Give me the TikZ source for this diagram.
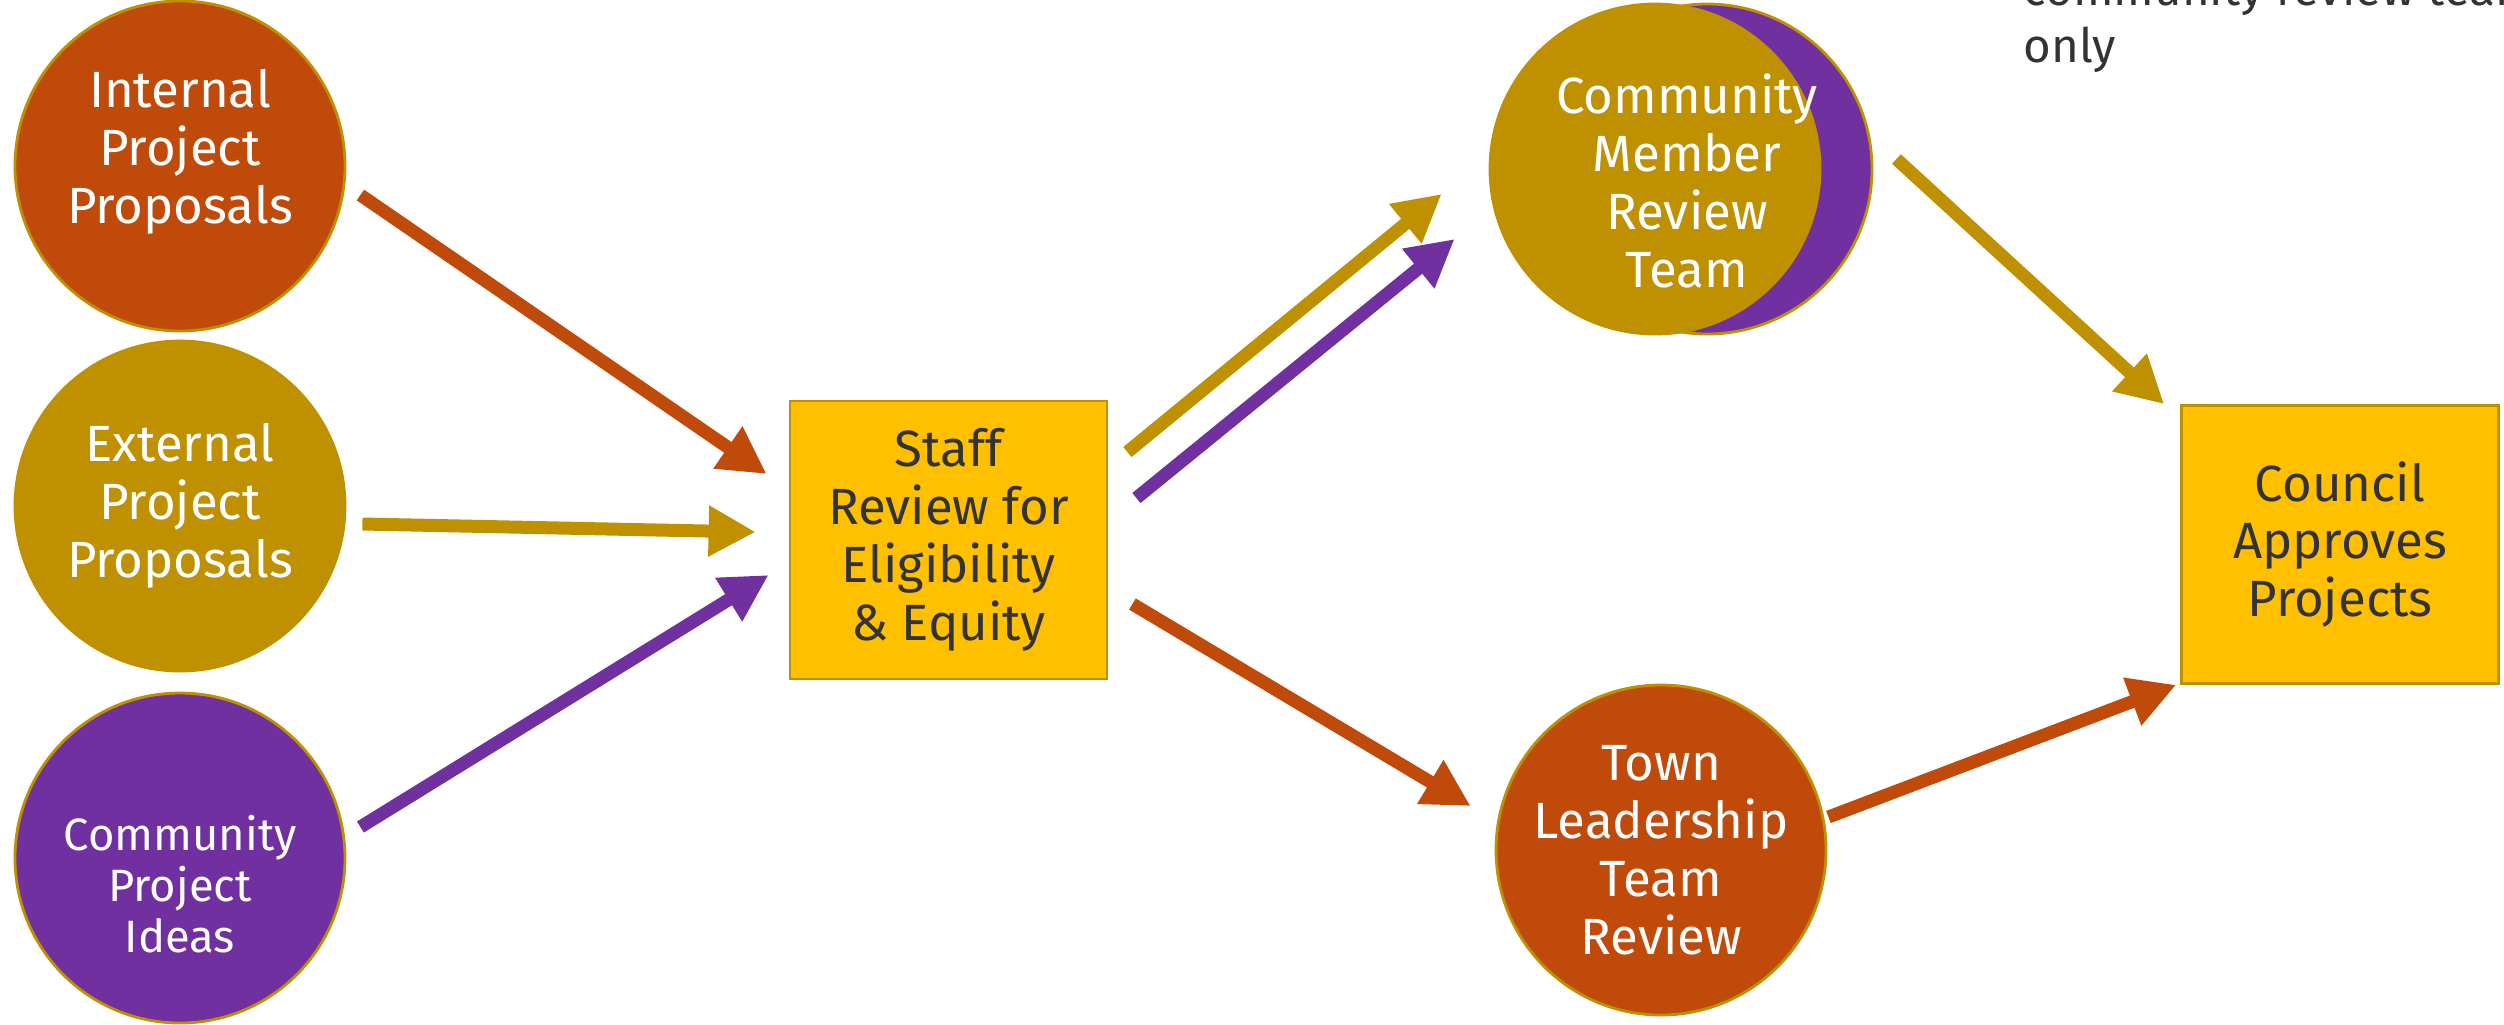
\documentclass[tikz,border=0pt]{standalone}
\usepackage{fontspec}
\setmainfont{Fira Sans}
\usetikzlibrary{arrows.meta}

\definecolor{rust}{RGB}{192,74,10}
\definecolor{ochre}{RGB}{191,144,0}
\definecolor{plum}{RGB}{112,48,160}
\definecolor{amber}{RGB}{255,192,0}
\definecolor{ink}{RGB}{51,51,51}

\tikzset{
	bubble/.style={circle, draw=ochre, line width=0.8pt, minimum size=3.3cm, inner sep=0pt},
	bubbletext/.style={text=white, align=center, font=\fontsize{14.5}{16.5}\selectfont},
	stage/.style={rectangle, draw=ochre, line width=0.8pt, fill=amber, minimum width=3.17cm, minimum height=2.78cm, text=ink, align=center, font=\fontsize{14.5}{16.5}\selectfont},
	flow/.style={line width=3.7pt, -{Triangle[length=4.7mm, width=4.8mm]}}
}

\begin{document}
\begin{tikzpicture}
	\useasboundingbox (0,0) rectangle (25.04,-10.24);
	% sources
	\node [bubble, fill=rust] (int) at (1.80,-1.66) {};
	\node [bubbletext] (intlbl) at (1.80,-1.52) {Internal\\Project\\Proposals};
	\node [bubble, fill=ochre, bubbletext] (ext) at (1.80,-5.06) {External\\Project\\Proposals};
	\node [bubble, fill=plum] (cpi) at (1.80,-8.58) {};
	\node [bubbletext, font=\fontsize{12.9}{14.5}\selectfont] (cpilbl) at (1.80,-8.84) {Community\\Project\\Ideas};
	% reviews
	\node [stage] (staff) at (9.485,-5.40) {Staff\\Review for\\Eligibility\\\& Equity};
	\node [bubble, fill=plum] (cmrtback) at (17.07,-1.69) {};
	\node [bubble, fill=ochre] (cmrt) at (16.55,-1.69) {};
	\node [bubbletext] (cmrtlbl) at (16.87,-1.81) {Community\\Member\\Review\\Team};
	\node [bubble, fill=rust, bubbletext] (town) at (16.61,-8.50) {Town\\Leadership\\Team\\Review};
	\node [stage] (council) at (23.40,-5.445) {Council\\Approves\\Projects};
	\node [anchor=base west, align=left, inner sep=0pt, text=ink, font=\fontsize{13.5}{16.2}\selectfont] (note) at (20.23,-0.62) {community review team\\only};
	% flows
	\draw [flow, rust] ([shift={(0.14,-0.29)}]int.east) -- ([shift={(-0.22,0.66)}]staff.west);
	\draw [flow, ochre] ([shift={(0.16,-0.18)}]ext.east) -- ([shift={(-0.33,0.08)}]staff.west);
	\draw [flow, plum] ([shift={(0.14,0.31)}]cpi.east) -- ([shift={(-0.20,-0.35)}]staff.west);
	\draw [flow, ochre] ([shift={(0.19,0.88)}]staff.east) -- ([shift={(-0.47,-0.25)}]cmrt.west);
	\draw [flow, plum] ([shift={(0.28,0.42)}]staff.east) -- ([shift={(-0.34,-0.70)}]cmrt.west);
	\draw [flow, rust] ([shift={(0.24,-0.64)}]staff.east) -- ([shift={(-0.24,0.44)}]town.west);
	\draw [flow, ochre] ([shift={(0.23,0.10)}]cmrtback.east) -- ([shift={(-0.16,0)}]council.north west);
	\draw [flow, rust] ([shift={(0.01,0.33)}]town.east) -- ([shift={(-0.04,0)}]council.south west);
\end{tikzpicture}
\end{document}
